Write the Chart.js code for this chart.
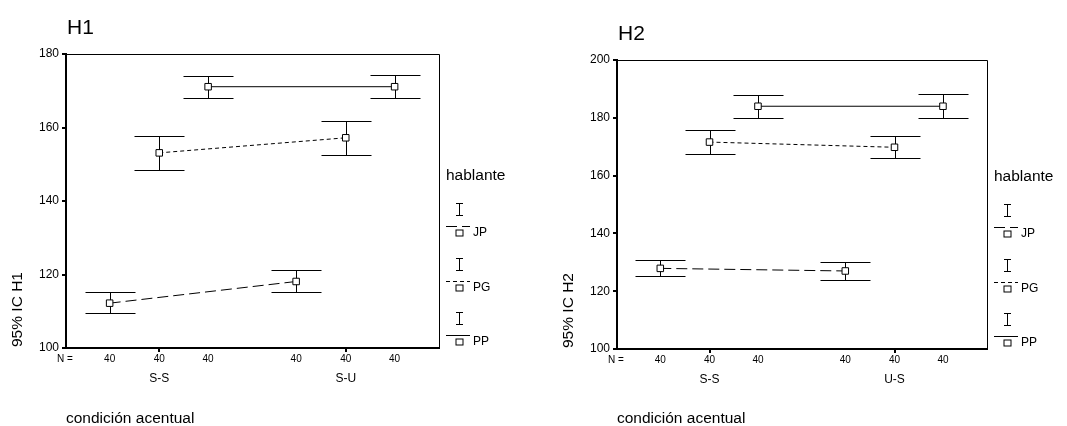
<!DOCTYPE html>
<html><head><meta charset="utf-8">
<script src="https://cdn.jsdelivr.net/npm/chart.js@4.4.0/dist/chart.umd.min.js"></script>
<style>
html,body{margin:0;padding:0;background:#fff;}
#wrap{position:relative;width:1067px;height:426px;overflow:hidden;}
.c{position:absolute;top:0;height:426px;}
</style></head><body>
<div id="wrap">
<div class="c" style="left:0;width:533px"><canvas id="c1"></canvas></div>
<div class="c" style="left:533px;width:534px"><canvas id="c2"></canvas></div>
</div>
<script>
// ---------- data ----------
const speakers = ['JP', 'PG', 'PP'];
const legendTitle = 'hablante';
const xTitle = 'condición acentual';

const h1Categories = ['S-S', 'S-U'];
const h1Ticks = [100, 120, 140, 160, 180];
const h1JPMean = [112.2, 118.1];
const h1JPLow  = [109.6, 115.2];
const h1JPHigh = [115.2, 121.3];
const h1PGMean = [153.1, 157.2];
const h1PGLow  = [148.4, 152.5];
const h1PGHigh = [157.8, 161.8];
const h1PPMean = [171.1, 171.1];
const h1PPLow  = [168.1, 168.1];
const h1PPHigh = [174.0, 174.2];
const h1N = [40, 40, 40, 40, 40, 40]; // per category: JP, PG, PP

const h2Categories = ['S-S', 'U-S'];
const h2Ticks = [100, 120, 140, 160, 180, 200];
const h2JPMean = [127.9, 127.0];
const h2JPLow  = [125.4, 124.0];
const h2JPHigh = [130.7, 130.1];
const h2PGMean = [171.6, 169.8];
const h2PGLow  = [167.4, 166.0];
const h2PGHigh = [175.7, 173.7];
const h2PPMean = [184.0, 184.0];
const h2PPLow  = [180.0, 180.0];
const h2PPHigh = [188.0, 188.3];
const h2N = [40, 40, 40, 40, 40, 40];

// ---------- styling ----------
const FONT = "'Liberation Sans', Arial, Helvetica, sans-serif";
const groupOffsets = [-0.266, 0, 0.262];
const dashes = [[11, 5], [4, 3], []];
const CAP = 25;

function makeChart(id, o) {
  const means = [o.jpMean, o.pgMean, o.ppMean];
  const lows = [o.jpLow, o.pgLow, o.ppLow];
  const highs = [o.jpHigh, o.pgHigh, o.ppHigh];
  const datasets = speakers.map((s, si) => ({
    label: s,
    data: means[si].map((v, ci) => ({ x: ci + groupOffsets[si], y: v })),
    ciLow: lows[si],
    ciHigh: highs[si],
    borderColor: '#000',
    borderWidth: 1,
    borderDash: dashes[si],
    backgroundColor: '#fff',
    pointStyle: 'rect',
    pointRadius: 4.6,
    pointHoverRadius: 4.6,
    pointBorderWidth: 1,
    pointBorderColor: '#000',
    pointBackgroundColor: '#fff',
    tension: 0,
    fill: false
  }));

  const extras = {
    id: 'extras',
    beforeDatasetsDraw(chart) {
      const ctx = chart.ctx;
      const xs = chart.scales.x, ys = chart.scales.y;
      ctx.save();
      ctx.strokeStyle = '#000';
      ctx.lineWidth = 1;
      chart.data.datasets.forEach(ds => {
        ds.data.forEach((p, j) => {
          const x = Math.round(xs.getPixelForValue(p.x)) + 0.5;
          const yl = Math.round(ys.getPixelForValue(ds.ciLow[j])) + 0.5;
          const yh = Math.round(ys.getPixelForValue(ds.ciHigh[j])) + 0.5;
          ctx.beginPath();
          ctx.moveTo(x, yh); ctx.lineTo(x, yl);
          ctx.moveTo(x - CAP, yh); ctx.lineTo(x + CAP, yh);
          ctx.moveTo(x - CAP, yl); ctx.lineTo(x + CAP, yl);
          ctx.stroke();
        });
      });
      ctx.restore();
    },
    afterDraw(chart) {
      const ctx = chart.ctx;
      const a = chart.chartArea;
      const xs = chart.scales.x;
      ctx.save();
      // top / right frame
      ctx.strokeStyle = '#000';
      ctx.lineWidth = 1;
      ctx.beginPath();
      ctx.moveTo(a.left, a.top + 0.5); ctx.lineTo(a.right + 0.5, a.top + 0.5);
      ctx.lineTo(a.right + 0.5, a.bottom);
      ctx.stroke();

      ctx.fillStyle = '#000';
      // title
      ctx.font = '21px ' + FONT;
      ctx.textAlign = 'left'; ctx.textBaseline = 'alphabetic';
      ctx.fillText(o.title, a.left + 1, a.top - 20);

      // y axis title
      ctx.save();
      ctx.translate(a.left - 48, a.bottom - 1);
      ctx.rotate(-Math.PI / 2);
      ctx.font = '15.5px ' + FONT;
      ctx.textAlign = 'left'; ctx.textBaseline = 'middle';
      ctx.fillText(o.yTitle, 0, 0);
      ctx.restore();

      // x title
      ctx.font = '15.5px ' + FONT;
      ctx.textAlign = 'left'; ctx.textBaseline = 'alphabetic';
      ctx.fillText(xTitle, a.left, 423);

      // N row
      ctx.font = '10px ' + FONT;
      ctx.textBaseline = 'middle';
      ctx.textAlign = 'left';
      ctx.fillText('N =', a.left - 9, a.bottom + 11);
      ctx.textAlign = 'center';
      o.categories.forEach((c, ci) => {
        speakers.forEach((s, si) => {
          const x = xs.getPixelForValue(ci + groupOffsets[si]);
          ctx.fillText(String(o.n[ci * speakers.length + si]), x, a.bottom + 11);
        });
      });

      // legend
      const lx = a.right;
      const by = a.bottom;
      ctx.font = '15.5px ' + FONT;
      ctx.textAlign = 'left'; ctx.textBaseline = 'alphabetic';
      ctx.fillText(legendTitle, lx + 7, by - 168);
      speakers.forEach((s, si) => {
        const off = si * 54.5;
        const cx = Math.round(lx + 20) + 0.5;
        const t = Math.round(by - 145 + off) + 0.5;
        const b = Math.round(by - 133 + off) + 0.5;
        ctx.strokeStyle = '#000';
        ctx.lineWidth = 1;
        ctx.setLineDash([]);
        ctx.beginPath();
        ctx.moveTo(cx, t); ctx.lineTo(cx, b);
        ctx.moveTo(cx - 3.5, t); ctx.lineTo(cx + 3.5, t);
        ctx.moveTo(cx - 3.5, b); ctx.lineTo(cx + 3.5, b);
        ctx.stroke();
        const ly = Math.round(by - 122 + off) + 0.5;
        ctx.setLineDash(dashes[si]);
        ctx.beginPath();
        ctx.moveTo(lx + 7, ly); ctx.lineTo(lx + 31, ly);
        ctx.stroke();
        ctx.setLineDash([]);
        const sy = Math.round(by - 115 + off);
        ctx.fillStyle = '#fff';
        ctx.fillRect(cx - 3.5, sy - 3, 7, 6);
        ctx.strokeRect(cx - 3.5, sy - 3 + 0.0, 7, 6);
        ctx.fillStyle = '#000';
        ctx.font = '12px ' + FONT;
        ctx.textBaseline = 'middle';
        ctx.fillText(s, lx + 34, sy);
      });
      ctx.restore();
    }
  };

  return new Chart(document.getElementById(id), {
    type: 'line',
    data: { datasets },
    options: {
      responsive: true,
      maintainAspectRatio: false,
      animation: false,
      events: [],
      layout: { padding: { left: 0, right: o.padRight, top: o.padTop, bottom: 0 } },
      plugins: { legend: { display: false }, tooltip: { enabled: false }, title: { display: false } },
      scales: {
        x: {
          type: 'linear',
          min: -0.5, max: 1.5,
          afterBuildTicks: s => { s.ticks = o.categories.map((c, i) => ({ value: i })); },
          afterFit: s => { s.height = o.xHeight; },
          ticks: {
            callback: (v, i) => o.categories[i],
            color: '#000',
            font: { family: FONT, size: 12 },
            padding: 19,
            maxRotation: 0,
            autoSkip: false
          },
          grid: { display: true, drawOnChartArea: false, drawTicks: true, tickLength: 4, color: '#000', lineWidth: 2 },
          border: { display: true, color: '#000', width: 2 }
        },
        y: {
          type: 'linear',
          min: o.ticks[0], max: o.ticks[o.ticks.length - 1],
          afterBuildTicks: s => { s.ticks = o.ticks.map(v => ({ value: v })); },
          afterFit: s => { s.width = o.yWidth; },
          ticks: {
            color: '#000',
            font: { family: FONT, size: 12 },
            padding: 3,
            callback: v => String(v)
          },
          grid: { display: true, drawOnChartArea: false, drawTicks: true, tickLength: 4, color: '#000', lineWidth: 2 },
          border: { display: true, color: '#000', width: 2 }
        }
      }
    },
    plugins: [extras]
  });
}

makeChart('c1', {
  title: 'H1', yTitle: '95% IC H1', categories: h1Categories, ticks: h1Ticks, n: h1N,
  jpMean: h1JPMean, jpLow: h1JPLow, jpHigh: h1JPHigh,
  pgMean: h1PGMean, pgLow: h1PGLow, pgHigh: h1PGHigh,
  ppMean: h1PPMean, ppLow: h1PPLow, ppHigh: h1PPHigh,
  padRight: 94, padTop: 54, yWidth: 66, xHeight: 78
});
makeChart('c2', {
  title: 'H2', yTitle: '95% IC H2', categories: h2Categories, ticks: h2Ticks, n: h2N,
  jpMean: h2JPMean, jpLow: h2JPLow, jpHigh: h2JPHigh,
  pgMean: h2PGMean, pgLow: h2PGLow, pgHigh: h2PGHigh,
  ppMean: h2PPMean, ppLow: h2PPLow, ppHigh: h2PPHigh,
  padRight: 80, padTop: 60, yWidth: 84, xHeight: 77
});
</script>
</body></html>
